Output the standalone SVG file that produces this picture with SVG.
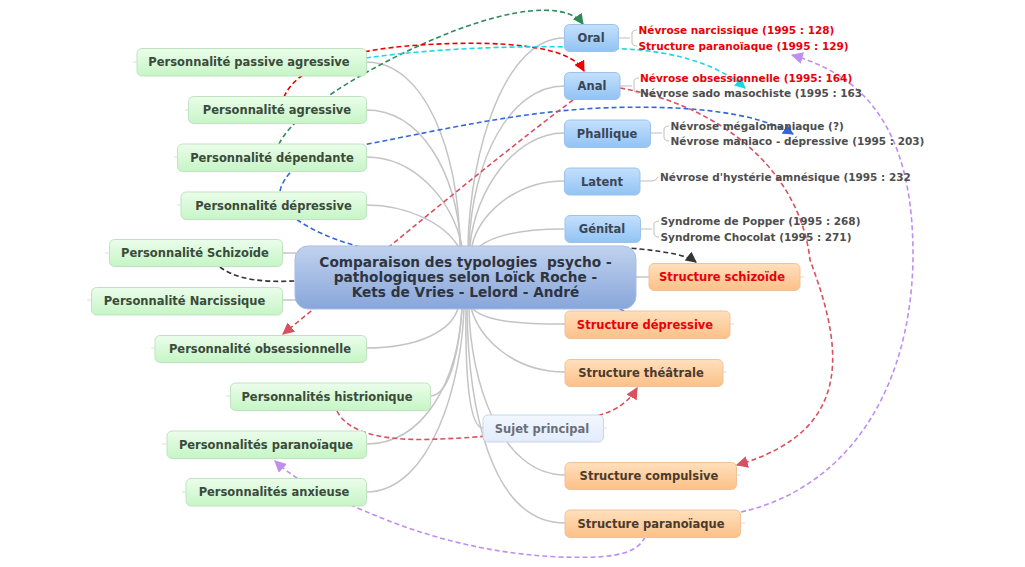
<svg xmlns="http://www.w3.org/2000/svg" width="1025" height="567" viewBox="0 0 1025 567">
<defs>
<linearGradient id="gGreen" x1="0" y1="0" x2="0" y2="1"><stop offset="0" stop-color="#ebfdeb"/><stop offset="1" stop-color="#c6f5c6"/></linearGradient>
<linearGradient id="gBlue" x1="0" y1="0" x2="0" y2="1"><stop offset="0" stop-color="#c4e0fd"/><stop offset="1" stop-color="#92c3f3"/></linearGradient>
<linearGradient id="gOrange" x1="0" y1="0" x2="0" y2="1"><stop offset="0" stop-color="#ffe0bc"/><stop offset="1" stop-color="#fcc088"/></linearGradient>
<linearGradient id="gCenter" x1="0" y1="0" x2="0" y2="1"><stop offset="0" stop-color="#c0d2ee"/><stop offset="1" stop-color="#88a6da"/></linearGradient>
<linearGradient id="gSujet" x1="0" y1="0" x2="0" y2="1"><stop offset="0" stop-color="#f2f7ff"/><stop offset="1" stop-color="#e2ecfb"/></linearGradient>
<marker id="aGreen" viewBox="0 0 10 10" refX="9" refY="5" markerWidth="11" markerHeight="11" markerUnits="userSpaceOnUse" orient="auto"><path d="M0,0 L10,5 L0,10 z" fill="#2e8b57"/></marker>
<marker id="aRed" viewBox="0 0 10 10" refX="9" refY="5" markerWidth="11" markerHeight="11" markerUnits="userSpaceOnUse" orient="auto"><path d="M0,0 L10,5 L0,10 z" fill="#ee0000"/></marker>
<marker id="aCyan" viewBox="0 0 10 10" refX="9" refY="5" markerWidth="11" markerHeight="11" markerUnits="userSpaceOnUse" orient="auto"><path d="M0,0 L10,5 L0,10 z" fill="#1ad8e8"/></marker>
<marker id="aBlue" viewBox="0 0 10 10" refX="9" refY="5" markerWidth="11" markerHeight="11" markerUnits="userSpaceOnUse" orient="auto"><path d="M0,0 L10,5 L0,10 z" fill="#3366dd"/></marker>
<marker id="aBlack" viewBox="0 0 10 10" refX="9" refY="5" markerWidth="11" markerHeight="11" markerUnits="userSpaceOnUse" orient="auto"><path d="M0,0 L10,5 L0,10 z" fill="#333333"/></marker>
<marker id="aPink" viewBox="0 0 10 10" refX="9" refY="5" markerWidth="12" markerHeight="12" markerUnits="userSpaceOnUse" orient="auto"><path d="M0,0 L10,5 L0,10 z" fill="#d9505e"/></marker>
<marker id="aPurple" viewBox="0 0 10 10" refX="9" refY="5" markerWidth="12" markerHeight="12" markerUnits="userSpaceOnUse" orient="auto"><path d="M0,0 L10,5 L0,10 z" fill="#c08ef0"/></marker>
</defs>
<style>
text{font-family:"DejaVu Sans",Verdana,sans-serif;font-weight:bold;white-space:pre}
.t{font-size:11.5px;text-anchor:middle}
.tg{fill:#3b4a3b}
.tb{fill:#3a4656}
.to{fill:#4a3b2e}
.tr{fill:#e8000a}
.sub{font-size:10.5px}
.sg{fill:#4e4e4e}
.sr{fill:#e8000a}
.title{font-size:13.7px;text-anchor:middle;fill:#2e3440}
.green{fill:url(#gGreen);stroke:#bfe3bf;stroke-width:1}
.blue{fill:url(#gBlue);stroke:#9cc2ea;stroke-width:1}
.orange{fill:url(#gOrange);stroke:#efc29c;stroke-width:1}
.grey{fill:none;stroke:#c4c4c4;stroke-width:1.5}
.stub{fill:none;stroke:#dddddd;stroke-width:1}
.br{fill:none;stroke:#bdbdbd;stroke-width:1}
.d{fill:none;stroke-width:1.6;stroke-dasharray:5 3}
</style>

<g id="connectors">
<!-- grey tree connectors -->
<path class="grey" d="M366,62 C425,62 458,150 460,246"/>
<path class="grey" d="M366,110 C420,110 456,170 461,246"/>
<path class="grey" d="M366,157 C415,157 452,200 462,246"/>
<path class="grey" d="M366,205 C410,205 445,225 458,246"/>
<path class="grey" d="M564,38 C505,38 470,150 468,246"/>
<path class="grey" d="M564,86 C510,86 472,160 469,246"/>
<path class="grey" d="M564,133 C515,133 475,190 470,246"/>
<path class="grey" d="M564,181 C515,181 478,215 472,246"/>
<path class="grey" d="M564,229 C520,229 495,235 480,246"/>
<path class="grey" d="M282,253 H296"/>
<path class="grey" d="M282,300 H296"/>
<path class="grey" d="M636,277 H649"/>
<path class="grey" d="M366,348 C420,348 452,330 458,308"/>
<path class="grey" d="M430,396 C452,396 460,340 462,308"/>
<path class="grey" d="M366,444 C425,444 458,380 462,308"/>
<path class="grey" d="M366,492 C432,492 462,380 464,308"/>
<path class="grey" d="M483,428 C470,428 465,380 466,308"/>
<path class="grey" d="M565,324 C520,324 485,322 472,308"/>
<path class="grey" d="M565,372 C515,372 480,340 471,308"/>
<path class="grey" d="M565,475 C500,475 470,380 469,308"/>
<path class="grey" d="M565,523 C488,523 468,400 467,308"/>
<!-- brackets to sub-labels -->
<path class="br" d="M618,38 H630 M637,30 Q632,30 632,34 V42 Q632,46 637,46"/>
<path class="br" d="M620,86 H632 M639,78 Q634,78 634,82 V89 Q634,93 639,93"/>
<path class="br" d="M650,133 H662 M669,126 Q664,126 664,130 V137 Q664,141 669,141"/>
<path class="br" d="M640,181 H652 Q656,181 658,177"/>
<path class="br" d="M640,229 H652 M659,221 Q654,221 654,225 V233 Q654,237 659,237"/>
<!-- stubs -->
<path class="stub" d="M133,62 H137 M185,110 H189 M174,157 H178 M177,205 H181 M105,253 H109 M87,300 H91 M151,348 H155 M226,396 H230 M162,444 H166 M182,492 H186 M603,428 H607 M800,277 H804 M730,324 H734 M723,372 H727 M737,475 H741 M741,523 H745"/>
<!-- dashed relationship connectors -->
<path class="d" stroke="#2e8b57" d="M279,144 C300,100 420,40 480,22 C530,6 570,6 583,24" marker-end="url(#aGreen)"/>
<path class="d" stroke="#ee0000" d="M284,97 C295,70 340,50 420,45 C500,40 570,45 584,71" marker-end="url(#aRed)"/>
<path class="d" stroke="#1ad8e8" d="M366,58 C450,46 560,44 640,50 C690,55 725,70 745,88" marker-end="url(#aCyan)"/>
<path class="d" stroke="#3366dd" d="M624,311 C560,280 420,265 353,245 C310,232 270,210 282,185 C292,162 320,152 363,145 C450,128 520,112 600,108 C700,104 760,115 793,134" marker-end="url(#aBlue)"/>
<path class="d" stroke="#333333" d="M220,267 C245,286 290,282 330,278 C450,265 580,242 640,249 C670,252 688,256 696,262" marker-end="url(#aBlack)"/>
<path class="d" stroke="#d9505e" stroke-width="1.2" d="M573,100 C480,170 380,255 283,334" marker-end="url(#aPink)"/>
<path class="d" stroke="#d9505e" stroke-width="1.4" d="M620,88 C720,105 800,170 810,260 C840,340 860,430 737,465" marker-end="url(#aPink)"/>
<path class="d" stroke="#d9505e" stroke-width="2" d="M337,411 C350,438 400,441 440,439 C520,436 560,425 600,415 C618,410 630,400 637,388" marker-end="url(#aPink)"/>
<path class="d" stroke="#c08ef0" stroke-width="1.4" d="M645,537 C635,558 600,558 560,557 C470,553 400,528 340,500 C310,487 290,475 275,461" marker-end="url(#aPurple)"/>
<path class="d" stroke="#c08ef0" stroke-width="1.4" d="M741,512 C840,490 910,400 913,260 C914,150 880,80 792,55" marker-end="url(#aPurple)"/>
</g>

<g id="central">
<rect x="295" y="246" width="341" height="63" rx="13" fill="url(#gCenter)" stroke="#a9bde0" stroke-width="1"/>
<text class="title" x="465.5" y="267">Comparaison des typologies  psycho -</text>
<text class="title" x="465.5" y="282">pathologiques selon Loïck Roche -</text>
<text class="title" x="465.5" y="297">Kets de Vries - Lelord - André</text>
</g>

<g id="n-passive-agressive"><rect class="green" x="137" y="48.5" width="229.5" height="27.5" rx="5"/><text class="t tg" x="249" y="66">Personnalité passive agressive</text></g>
<g id="n-agressive"><rect class="green" x="188.5" y="96.5" width="178" height="27" rx="5"/><text class="t tg" x="277" y="114">Personnalité agressive</text></g>
<g id="n-dependante"><rect class="green" x="177.5" y="144" width="189" height="27.5" rx="5"/><text class="t tg" x="272" y="161.5">Personnalité dépendante</text></g>
<g id="n-depressive"><rect class="green" x="181" y="192" width="185.5" height="27.5" rx="5"/><text class="t tg" x="273.5" y="209.5">Personnalité dépressive</text></g>
<g id="n-schizoide"><rect class="green" x="109.5" y="239.5" width="173" height="27" rx="5"/><text class="t tg" x="195" y="257">Personnalité Schizoïde</text></g>
<g id="n-narcissique"><rect class="green" x="91.5" y="287.5" width="191" height="27.5" rx="5"/><text class="t tg" x="184.5" y="305">Personnalité Narcissique</text></g>
<g id="n-obsessionnelle"><rect class="green" x="155" y="335.5" width="211.5" height="27" rx="5"/><text class="t tg" x="260" y="353">Personnalité obsessionnelle</text></g>
<g id="n-histrionique"><rect class="green" x="230.5" y="383" width="200" height="27.5" rx="5"/><text class="t tg" x="327" y="400.5">Personnalités histrionique</text></g>
<g id="n-paranoiaque"><rect class="green" x="167" y="431" width="199.5" height="27.5" rx="5"/><text class="t tg" x="266" y="448.5">Personnalités paranoïaque</text></g>
<g id="n-anxieuse"><rect class="green" x="186" y="478.5" width="180.5" height="27.5" rx="5"/><text class="t tg" x="274" y="496">Personnalités anxieuse</text></g>

<g id="n-oral"><rect class="blue" x="564.5" y="24.5" width="54" height="27" rx="5"/><text class="t tb" x="591" y="42">Oral</text></g>
<g id="n-anal"><rect class="blue" x="564.5" y="72.5" width="55.5" height="27" rx="5"/><text class="t tb" x="592" y="90">Anal</text></g>
<g id="n-phallique"><rect class="blue" x="564.5" y="120" width="86" height="27.5" rx="5"/><text class="t tb" x="607" y="137.5">Phallique</text></g>
<g id="n-latent"><rect class="blue" x="564.5" y="168" width="75.5" height="27" rx="5"/><text class="t tb" x="602" y="185.5">Latent</text></g>
<g id="n-genital"><rect class="blue" x="565" y="215.5" width="75.5" height="27" rx="5"/><text class="t tb" x="602" y="233">Génital</text></g>

<g id="sub-oral"><text class="sub sr" x="638.5" y="34">Névrose narcissique (1995 : 128)</text><text class="sub sr" x="638.5" y="49.5">Structure paranoïaque (1995 : 129)</text></g>
<g id="sub-anal"><text class="sub sr" x="640" y="81.5">Névrose obsessionnelle (1995: 164)</text><text class="sub sg" x="640" y="97">Névrose sado masochiste (1995 : 163</text></g>
<g id="sub-phallique"><text class="sub sg" x="670.5" y="129.5">Névrose mégalomaniaque (?)</text><text class="sub sg" x="670.5" y="145">Névrose maniaco - dépressive (1995 : 203)</text></g>
<g id="sub-latent"><text class="sub sg" x="660" y="180.5">Névrose d'hystérie amnésique (1995 : 232</text></g>
<g id="sub-genital"><text class="sub sg" x="660.5" y="225">Syndrome de Popper (1995 : 268)</text><text class="sub sg" x="660.5" y="240.5">Syndrome Chocolat (1995 : 271)</text></g>

<g id="n-s-schizoide"><rect class="orange" x="649" y="263.5" width="151" height="27" rx="5"/><text class="t tr" x="722" y="281">Structure schizoïde</text></g>
<g id="n-s-depressive"><rect class="orange" x="565" y="311" width="165" height="27.5" rx="5"/><text class="t tr" x="645" y="328.5">Structure dépressive</text></g>
<g id="n-s-theatrale"><rect class="orange" x="565" y="359.5" width="158" height="27" rx="5"/><text class="t to" x="641" y="377">Structure théâtrale</text></g>
<g id="n-sujet"><rect x="483" y="415" width="120.5" height="27" rx="5" fill="url(#gSujet)" stroke="#c9d5e8" stroke-width="1"/><text class="t" x="542" y="432.5" fill="#6a6e78">Sujet principal</text></g>
<g id="n-s-compulsive"><rect class="orange" x="565" y="462.5" width="171.5" height="27" rx="5"/><text class="t to" x="649" y="480">Structure compulsive</text></g>
<g id="n-s-paranoiaque"><rect class="orange" x="565" y="510" width="175.5" height="27.5" rx="5"/><text class="t to" x="651" y="527.5">Structure paranoïaque</text></g>
</svg>
